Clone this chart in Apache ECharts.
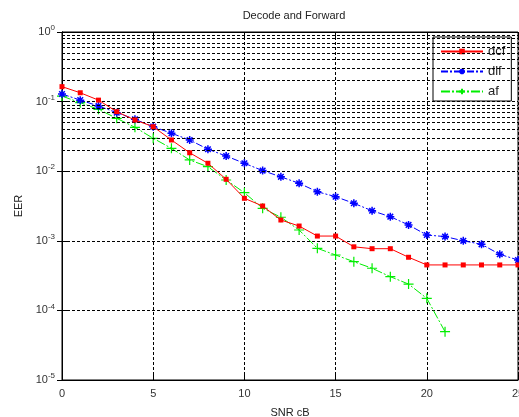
<!DOCTYPE html>
<html><head><meta charset="utf-8">
<script src="https://cdn.jsdelivr.net/npm/echarts@6/dist/echarts.min.js"></script>
<style>html,body{margin:0;padding:0;background:#fff}#c{width:519px;height:417px}</style>
</head><body><div id="c"></div>
<script>
const snr = [0,1,2,3,4,5,6,7,8,9,10,11,12,13,14,15,16,17,18,19,20,21,22,23,24,25];
const dcf = [0.164,0.134,0.105,0.0716,0.0544,0.0436,0.0281,0.0184,0.0130,0.00765,0.00408,0.00316,0.00199,0.00163,0.00117,0.00117,0.00082,0.00077,0.00077,0.00058,0.00045,0.00045,0.00045,0.00045,0.00045,0.00045];
const dlf = [0.1286,0.105,0.0865,0.0693,0.0557,0.0436,0.0351,0.0281,0.0207,0.0165,0.0130,0.0102,0.0083,0.0067,0.00507,0.0043,0.00346,0.0027,0.00222,0.00169,0.00121,0.00115,0.00100,0.00089,0.00064,0.00053];
const af = [0.120,0.0964,0.0775,0.0575,0.0427,0.0297,0.0213,0.0145,0.0116,0.00748,0.00491,0.00293,0.00218,0.00143,0.00078,0.000625,0.000501,0.000403,0.000305,0.000239,0.000149,0.0000494];
const xTicks = [0,5,10,15,20,25];
const yDecades = [1e-5,1e-4,1e-3,1e-2,1e-1,1];
const minorMultipliers = [2,3,4,5,6,7,8,9];

const minorGrid = [];
for (let i = 0; i < yDecades.length - 1; i++) {
  for (const m of minorMultipliers) minorGrid.push({ yAxis: m * yDecades[i] });
}
const pairs = arr => arr.map((v, i) => [snr[i], v]);
const FONT = 'Liberation Sans';
const plusPath = 'path://M0,-1L0,1M-1,0L1,0';
const starPath = 'path://M0,-1L0,1M-1,0L1,0M-0.7,-0.7L0.7,0.7M0.7,-0.7L-0.7,0.7';

const chart = echarts.init(document.getElementById('c'), null, { renderer: 'canvas' });
chart.setOption({
  animation: false,
  backgroundColor: '#fff',
  title: {
    text: 'Decode and Forward', left: 289, top: 5, textAlign: 'center',
    textStyle: { fontFamily: FONT, fontSize: 11, fontWeight: 'normal', color: '#222' }
  },
  legend: {
    orient: 'vertical', left: 433, top: 37,
    backgroundColor: '#fff', borderColor: '#000', borderWidth: 1, borderRadius: 0,
    padding: [7, 6, 2, 7], itemWidth: 42, itemHeight: 7, itemGap: 5,
    textStyle: { fontFamily: FONT, fontSize: 13, color: '#222', lineHeight: 15 },
    data: ['dcf', 'dlf', 'af']
  },
  grid: { left: 62, right: 1, top: 32, bottom: 37, show: true, borderColor: '#000', borderWidth: 1, containLabel: false, outerBoundsMode: 'none' },
  xAxis: [{
    type: 'value', min: xTicks[0], max: xTicks[xTicks.length - 1], interval: 5,
    name: 'SNR cB', nameLocation: 'middle', nameGap: 27,
    nameTextStyle: { fontFamily: FONT, fontSize: 11, color: '#222' },
    axisLine: { show: true, lineStyle: { color: '#000' } },
    axisTick: { inside: true, length: 5, lineStyle: { color: '#000' } },
    axisLabel: { fontFamily: FONT, fontSize: 11, color: '#333', margin: 8 },
    splitLine: { show: true, lineStyle: { color: '#000', type: [3, 2], width: 1 } }
  }, {
    type: 'value', position: 'top', min: xTicks[0], max: xTicks[xTicks.length - 1], interval: 5,
    axisLine: { show: true, lineStyle: { color: '#000' } },
    axisTick: { inside: true, length: 5, lineStyle: { color: '#000' } },
    axisLabel: { show: false }, splitLine: { show: false }
  }],
  yAxis: [{
    type: 'log', logBase: 10, min: yDecades[0], max: yDecades[yDecades.length - 1],
    name: 'EER', nameLocation: 'middle', nameGap: 36,
    nameTextStyle: { fontFamily: FONT, fontSize: 11, color: '#222' },
    axisLine: { show: true, lineStyle: { color: '#000' } },
    axisTick: { inside: true, length: 5, lineStyle: { color: '#000' } },
    axisLabel: {
      margin: 7,
      formatter: v => '{b|10}{s|' + Math.round(Math.log10(v)) + '}',
      rich: {
        b: { fontFamily: FONT, fontSize: 11, color: '#333' },
        s: { fontFamily: FONT, fontSize: 8, color: '#333', verticalAlign: 'top', padding: [0, 0, 8, 0] }
      }
    },
    splitLine: { show: true, lineStyle: { color: '#000', type: [3, 2], width: 1 } }
  }, {
    type: 'log', logBase: 10, position: 'right', min: yDecades[0], max: yDecades[yDecades.length - 1],
    axisLine: { show: true, lineStyle: { color: '#000' } },
    axisTick: { inside: true, length: 5, lineStyle: { color: '#000' } },
    axisLabel: { show: false }, splitLine: { show: false }
  }],
  series: [{
    type: 'line', name: 'grid', data: [], z: 1, silent: true,
    markLine: {
      silent: true, symbol: ['none', 'none'], label: { show: false },
      lineStyle: { color: '#000', type: [3, 2], width: 1 },
      emphasis: { disabled: true },
      data: minorGrid
    }
  }, {
    type: 'line', name: 'dcf', data: pairs(dcf), z: 5,
    symbol: 'rect', symbolSize: 5, showAllSymbol: true,
    lineStyle: { color: '#ff0000', width: 1 },
    itemStyle: { color: '#ff0000' }
  }, {
    type: 'line', name: 'dlf', data: pairs(dlf), z: 4,
    symbol: starPath, symbolSize: 8, showAllSymbol: true,
    lineStyle: { color: '#0000ff', width: 1, type: [7, 2, 2, 2] },
    itemStyle: { color: '#0000ff', borderColor: '#0000ff', borderWidth: 1.5 }
  }, {
    type: 'line', name: 'af', data: pairs(af), z: 3,
    symbol: plusPath, symbolSize: 10, showAllSymbol: true,
    lineStyle: { color: '#00ee00', width: 1, type: [9, 2, 2, 2] },
    itemStyle: { color: '#00ee00', borderColor: '#00ee00', borderWidth: 1.2 }
  }]
});
</script></body></html>
